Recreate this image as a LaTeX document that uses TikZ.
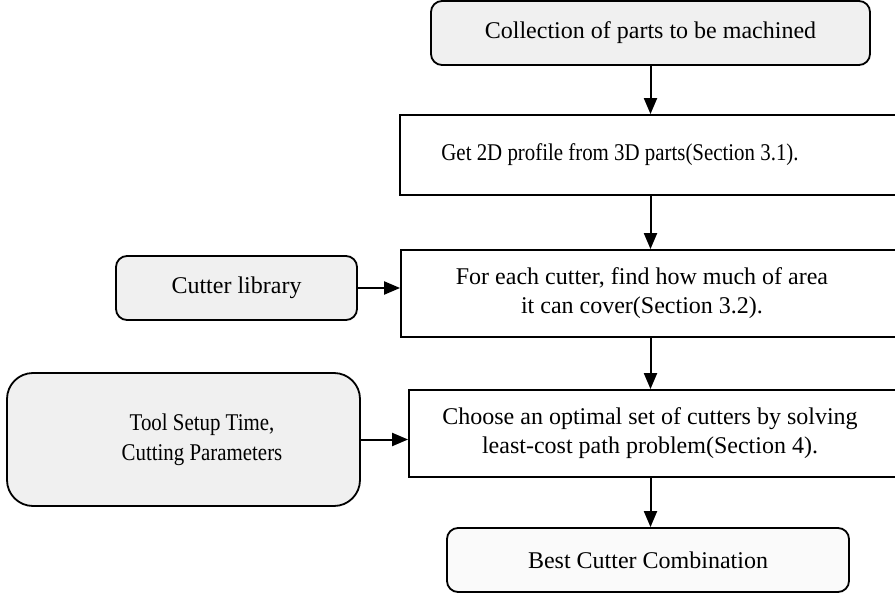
\documentclass[tikz,border=0pt]{standalone}
\usepackage{fontspec}
\setmainfont{Liberation Serif}
\newfontfamily\narrowserif[FakeStretch=0.87]{Liberation Serif}
\usepackage{tikz}
\usetikzlibrary{arrows.meta}

\begin{document}
\begin{tikzpicture}[x=1pt, y=-1pt,
    font=\fontsize{24}{29}\selectfont,
    inputbox/.style={draw, line width=1.8pt, rounded corners=11pt, fill=black!6!white, align=center, inner sep=0pt},
    stepbox/.style={draw, line width=1.8pt, fill=white, align=center, inner sep=0pt},
    flow/.style={line width=2pt, -{Triangle[length=16pt, width=13pt]}}]
    \useasboundingbox (0, 0) rectangle (895, 594);

    \node [inputbox, minimum width=439pt, minimum height=64pt] (collect) at (650.5, 33) {Collection of parts to be machined};
    \node [stepbox, minimum width=505pt, minimum height=80pt] (profile) at (652.5, 155) {};
    \node [font=\narrowserif\fontsize{24}{29}\selectfont] (profiletext) at (620, 155) {Get 2D profile from 3D parts(Section 3.1).};
    \node [stepbox, minimum width=504pt, minimum height=87pt] (cover) at (653, 293.5) {};
    \node [align=center] (covertext) at (642, 293.5) {For each cutter, find how much of area\\it can cover(Section 3.2).};
    \node [inputbox, minimum width=241pt, minimum height=64pt] (library) at (236.5, 288) {Cutter library};
    \node [stepbox, minimum width=496pt, minimum height=87pt] (choose) at (657, 433.5) {};
    \node [align=center] (choosetext) at (650, 433.5) {Choose an optimal set of cutters by solving\\least-cost path problem(Section 4).};
    \node [inputbox, rounded corners=26pt, minimum width=353pt, minimum height=133pt] (tool) at (183.5, 439.5) {};
    \node [align=center, font=\narrowserif\fontsize{24}{30}\selectfont] (tooltext) at (202, 439.5) {Tool Setup Time,\\Cutting Parameters};
    \node [inputbox, fill=black!2!white, minimum width=402pt, minimum height=64pt] (best) at (648, 560) {Best Cutter Combination};

    \draw [flow] (collect.south) -- (collect.south |- profile.north);
    \draw [flow] (collect.south |- profile.south) -- (collect.south |- cover.north);
    \draw [flow] (collect.south |- cover.south) -- (collect.south |- choose.north);
    \draw [flow] (collect.south |- choose.south) -- (collect.south |- best.north);
    \draw [flow] (library.east) -- (library.east -| cover.west);
    \draw [flow] (tool.east) -- (tool.east -| choose.west);
\end{tikzpicture}
\end{document}
